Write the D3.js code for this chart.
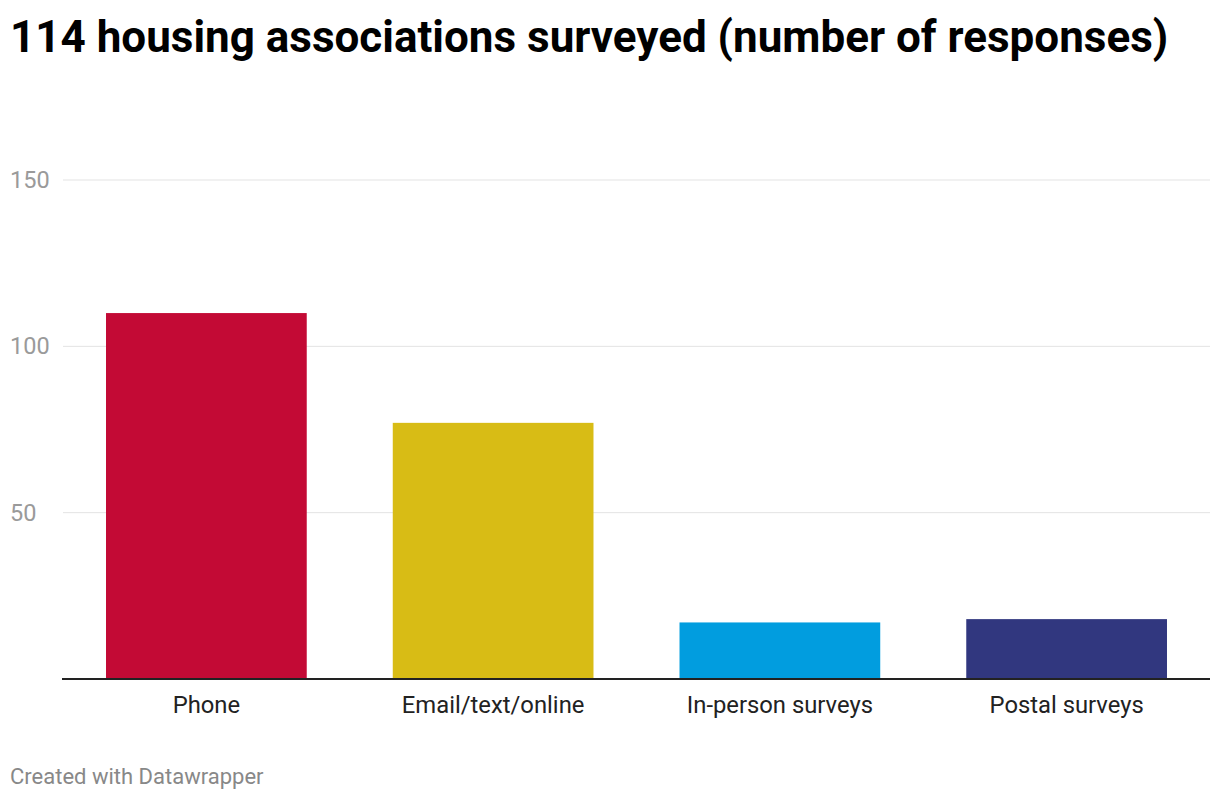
<!DOCTYPE html>
<html><head><meta charset="utf-8">
<script src="https://cdn.jsdelivr.net/npm/d3@7"></script>
<style>body{margin:0;background:#fff;font-family:Roboto,sans-serif;}</style>
</head><body>
<svg id="c" width="1220" height="800"></svg>
<script>
const categories = ["Phone", "Email/text/online", "In-person surveys", "Postal surveys"];
const values = [110, 77, 17, 18];
const colors = ["#c30a35", "#d8bc15", "#019ddf", "#31377f"];
const yTicks = [50, 100, 150];

const svg = d3.select("#c");
const mLeft = 63, mRight = 1210, mTop = 180, mBottom = 679;
const x = d3.scaleBand().domain(categories).range([mLeft, mRight]).paddingInner(0.3).paddingOuter(0.15);
const y = d3.scaleLinear().domain([0, 150]).range([mBottom, mTop]);

svg.append("text").attr("x", 10).attr("y", 52).text("114 housing associations surveyed (number of responses)")
  .attr("font-size", 44).attr("font-weight", 700).attr("fill", "#000");

const g = svg.append("g");
yTicks.forEach(t => {
  g.append("line").attr("x1", mLeft).attr("x2", mRight).attr("y1", y(t)).attr("y2", y(t)).attr("stroke", "#e3e3e3").attr("stroke-width", 1);
  g.append("text").attr("x", 10).attr("y", y(t) + 8).text(t).attr("font-size", 23.5).attr("fill", "#9a9a9a");
});

g.selectAll("rect").data(categories).join("rect")
  .attr("x", d => x(d)).attr("width", x.bandwidth())
  .attr("y", (d, i) => y(values[i])).attr("height", (d, i) => mBottom - y(values[i]))
  .attr("fill", (d, i) => colors[i]);

g.append("line").attr("x1", mLeft - 1).attr("x2", mRight).attr("y1", mBottom).attr("y2", mBottom).attr("stroke", "#222").attr("stroke-width", 2);

g.selectAll("text.cat").data(categories).join("text").attr("class", "cat")
  .attr("x", d => x(d) + x.bandwidth() / 2).attr("y", 713).attr("text-anchor", "middle")
  .text(d => d).attr("font-size", 23.8).attr("fill", "#222");

svg.append("text").attr("x", 10).attr("y", 784).text("Created with Datawrapper").attr("font-size", 22).attr("fill", "#888");
</script>
</body></html>
